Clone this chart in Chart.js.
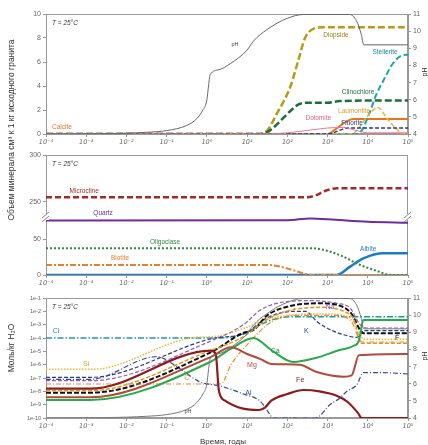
<!DOCTYPE html>
<html><head><meta charset="utf-8">
<script src="https://cdn.jsdelivr.net/npm/chart.js@4/dist/chart.umd.min.js"></script>
<style>
body{margin:0;background:#fff;width:428px;height:445px;position:relative;overflow:hidden;font-family:"Liberation Sans",Arial,sans-serif;}
canvas{position:absolute;left:0;}
.t{position:absolute;color:#333;white-space:nowrap;font-size:8px;}
.rot{transform:translate(-50%,-50%) rotate(-90deg);}
</style></head><body>
<canvas id="c1" width="428" height="150" style="top:0px"></canvas>
<canvas id="c2" width="428" height="143" style="top:148px"></canvas>
<canvas id="c3" width="428" height="143" style="top:291px"></canvas>
<div class="t rot" style="left:11px;top:130px;font-size:8.5px">Объем минерала см³ к 1 кг исходного гранита</div>
<div class="t rot" style="left:11px;top:348px;font-size:8.5px">Моль/кг H₂O</div>
<div class="t rot" style="left:424px;top:72px;font-size:7px">pH</div>
<div class="t rot" style="left:424px;top:356px;font-size:7px">pH</div>
<div class="t" style="left:223px;top:441px;transform:translate(-50%,-50%);font-size:8px">Время, годы</div>
<script>
// ---------- axes / ticks ----------
const decades = [-4,-3,-2,-1,0,1,2,3,4,5];               // log10(years)
const xTickLabels = ['10⁻⁴','10⁻³','10⁻²','10⁻¹','10⁰','10¹','10²','10³','10⁴','10⁵'];
const pHTicks = [4,5,6,7,8,9,10,11];
const volTicks = [0,2,4,6,8,10];
const volTopTicks = [250,300];
const volBotTicks = [0,50];
const molTicks = [-10,-9,-8,-7,-6,-5,-4,-3,-2,-1];        // log10(mol/kg)
const molTickLabels = ['1e-10','1e-9','1e-8','1e-7','1e-6','1e-5','1e-4','1e-3','1e-2','1e-1'];

// ---------- pH (shared by panels 1 and 3): [log10 t, pH] ----------
const pH = [[-4,4.0],[-2.5,4.02],[-2,4.05],[-1.5,4.1],[-1,4.2],[-0.5,4.5],[-0.25,4.9],[-0.1,5.4],[0,6.0],[0.04,6.8],[0.08,7.45],[0.3,7.75],[0.58,8.1],[1.0,8.9],[1.15,9.4],[1.5,10.1],[2.0,10.75],[2.4,10.97],[3.55,10.97],[3.72,10.6],[3.84,9.8],[3.9,9.2],[5,9.2]];

// ---------- panel 1: secondary minerals, cm3 ----------
const diopside    = [[-4,0],[1.3,0],[1.5,0.3],[1.74,1.7],[2.07,3.9],[2.27,6.1],[2.44,8.0],[2.64,8.75],[2.9,8.9],[5,8.9]];
const clinochlore = [[-4,0],[1.3,0],[1.5,0.15],[1.74,0.8],[2.07,1.9],[2.3,2.5],[2.5,2.6],[3.0,2.6],[3.3,2.75],[5,2.8]];
const stellerite  = [[-4,0],[3.7,0],[3.85,0.3],[4.06,1.9],[4.2,3.2],[4.38,4.4],[4.63,5.9],[4.85,6.55],[5,6.6]];
const laumontite  = [[-4,0],[3.6,0],[3.8,0.6],[4.0,1.5],[4.25,2.2],[4.5,1.2],[4.75,0.3],[4.9,0],[5,0]];
const calcite     = [[-4,0],[3.0,0],[3.2,0.4],[3.45,1.0],[3.64,1.25],[5,1.25]];
const dolomite    = [[-4,0],[1.5,0],[2.0,0.1],[2.5,0.3],[3.0,0.5],[3.4,0.55],[3.7,0.3],[4.0,0.1],[5,0.1]];
const fluorite    = [[-4,0],[3.0,0],[3.3,0.3],[3.5,0.5],[5,0.5]];

// ---------- panel 2: primary minerals, cm3 ----------
const microcline = [[-4,255],[2.45,255],[2.7,257],[2.95,262],[3.25,264.5],[5,264.5]];
const quartz     = [[-4,76],[2.0,76.5],[2.57,79],[3.2,77],[4.0,74.5],[5,73]];
const oligoclase = [[-4,37.5],[2.57,37.5],[2.98,34],[3.39,25.7],[3.81,14],[4.23,5.6],[4.48,0.9],[4.7,0],[5,0]];
const biotite    = [[-4,14],[1.49,14],[1.74,12.6],[2.07,8],[2.4,2.3],[2.57,0],[5,0]];
const albite     = [[-4,0],[3.23,0],[3.56,11.7],[3.89,23.3],[4.39,30.3],[5,30.3]];

// ---------- panel 3: solution, log10 mol/kg H2O ----------
const cl = [[-4,-4],[0.3,-4],[0.9,-3.7],[1.4,-2.9],[1.8,-2.5],[2.2,-2.4],[5,-2.4]];
const si = [[-4,-6.35],[-2.85,-6.35],[-0.4,-4.0],[0.3,-3.85],[0.9,-3.3],[1.5,-2.6],[2.0,-2.3],[3.0,-2.2],[3.5,-2.4],[3.75,-3.2],[3.9,-4.1],[5,-4.1]];
const k  = [[-4,-6.95],[-2.9,-6.95],[0.2,-4.0],[0.91,-3.7],[1.49,-2.5],[2.15,-2.0],[2.45,-2.0],[2.73,-2.75],[2.98,-3.25],[3.4,-3.75],[3.73,-3.95],[3.9,-3.45],[5,-3.45]];
const na = [[-4,-7.2],[-2.9,-7.2],[0.08,-4.25],[0.91,-3.0],[1.33,-1.9],[1.74,-1.4],[2.57,-1.2],[3.23,-1.4],[3.56,-1.75],[3.81,-3.0],[3.97,-3.25],[5,-3.25]];
const c  = [[-4,-7.45],[0.35,-7.45],[0.6,-6.0],[1.0,-4.5],[1.6,-2.8],[2.2,-2.3],[3.2,-2.3],[3.6,-2.8],[3.85,-4.3],[5,-4.3]];
const f  = [[-4,-8.1],[-2.9,-8.1],[0.08,-5.1],[0.91,-3.6],[1.16,-3.4],[1.5,-2.3],[2.07,-1.6],[2.82,-1.4],[3.4,-1.7],[3.6,-2.2],[3.81,-3.4],[3.9,-3.65],[5,-3.65]];
const extraDashed = [[-4,-7.95],[-2.9,-7.95],[0.08,-4.95],[0.91,-3.9],[1.5,-2.6],[2.1,-1.9],[2.9,-1.7],[3.4,-2.0],[3.65,-2.6],[3.85,-4.4],[5,-4.4]];
const ca = [[-4,-8.65],[-2.9,-8.65],[0.08,-5.8],[0.6,-4.8],[1.16,-4.0],[1.6,-4.9],[2.15,-5.8],[2.7,-5.5],[3.3,-4.9],[3.64,-4.6],[3.78,-4.2],[3.89,-2.65],[5,-2.65]];
const mg = [[-4,-8.45],[-2.9,-8.45],[0.08,-5.45],[0.6,-4.7],[1.0,-5.2],[1.35,-5.6],[1.6,-5.95],[2.3,-6.0],[2.73,-6.55],[3.4,-6.9],[3.6,-6.8],[3.78,-5.3],[5,-5.2]];
const fe = [[-4,-7.8],[-2.9,-7.8],[0.1,-4.95],[0.22,-5.2],[0.3,-8.0],[0.45,-8.7],[0.9,-9.3],[1.3,-9.4],[1.45,-9.2],[1.6,-8.7],[2.0,-8.2],[2.4,-7.9],[2.8,-8.0],[3.2,-8.3],[3.5,-8.8],[3.75,-9.6],[3.85,-10],[5,-10]];
const al = [[-4,-7.1],[-2.9,-7.1],[-1.25,-5.4],[-0.67,-6.3],[-0.17,-7.3],[0.33,-7.6],[0.91,-8.2],[1.33,-8.75],[1.49,-9.4],[1.66,-10],[2.7,-10],[3.06,-9.0],[3.31,-8.5],[3.48,-8.0],[3.73,-7.5],[3.89,-6.6],[4.4,-6.6],[5,-6.7]];

// ---------- helpers ----------
const FONT = "'Liberation Sans', Arial, sans-serif";
const TICKFONT = "'DejaVu Sans', 'Liberation Sans', sans-serif";
const pts = arr => arr.map(p => ({x:p[0], y:p[1]}));
function ds(label, arr, color, width, dash, yAxisID){
  return {label, data:pts(arr), borderColor:color, borderWidth:width, borderDash:dash||[],
    pointRadius:0, fill:false, cubicInterpolationMode:'monotone', yAxisID, borderCapStyle:'butt'};
}
function xScale(showLabels){
  return {type:'linear', min:-4, max:5,
    afterBuildTicks: s => { s.ticks = decades.map(v => ({value:v})); },
    afterFit: s => { s.height = 16; },
    ticks:{display:showLabels, callback:v => xTickLabels[decades.indexOf(v)], font:{family:TICKFONT,size:6.5,style:'italic'}, color:'#666', padding:1, maxRotation:0, autoSkip:false},
    grid:{drawOnChartArea:false, tickLength:3, color:'#999'}, border:{color:'#999'}};
}
function yScale(pos, min, max, ticks, labels, width, extra){
  return Object.assign({type:'linear', position:pos, min, max,
    afterBuildTicks: s => { s.ticks = ticks.map(v => ({value:v})); },
    afterFit: s => { s.width = width; },
    ticks:{callback:v => labels ? labels[ticks.indexOf(v)] : v, font:{family:FONT,size:7}, color:'#666', padding:2, autoSkip:false},
    grid:{drawOnChartArea:false, tickLength:3, color:'#999'}, border:{color:'#999'}}, extra||{});
}
const framePlugin = {id:'frame', beforeDatasetsDraw(chart){
  const a = chart.chartArea, ctx = chart.ctx;
  ctx.save(); ctx.strokeStyle = '#999'; ctx.lineWidth = 1;
  ctx.strokeRect(a.left+0.5, a.top+0.5, a.right-a.left-1, a.bottom-a.top-1); ctx.restore();
}};
function labelPlugin(items){
  return {id:'labels', afterDatasetsDraw(chart){
    const ctx = chart.ctx, a = chart.chartArea;
    ctx.save(); ctx.textBaseline = 'middle';
    ctx.font = "italic 6.5px " + FONT; ctx.fillStyle = '#333'; ctx.textAlign = 'left';
    ctx.fillText('T = 25°C', a.left+6, a.top+9);
    items.forEach(it => {
      ctx.font = (it.size||6.5) + "px " + FONT; ctx.fillStyle = it.color; ctx.textAlign = it.align||'center';
      ctx.fillText(it.text, chart.scales.x.getPixelForValue(it.x), chart.scales[it.axis].getPixelForValue(it.y));
    });
    ctx.restore();
  }};
}
const baseOpts = (padding, scales) => ({responsive:false, animation:false, devicePixelRatio:1,
  layout:{padding}, plugins:{legend:{display:false}, tooltip:{enabled:false}}, scales});

// ---------- panel 1 ----------
new Chart(document.getElementById('c1'), {type:'line',
  data:{datasets:[
    ds('pH', pH, '#666', 1, [], 'pHax'),
    ds('Dolomite', dolomite, '#e87a95', 1, [], 'y'),
    ds('Fluorite', fluorite, '#2c3a8e', 1.5, [4,2], 'y'),
    ds('Laumontite', laumontite, '#eab53a', 1.5, [5,2], 'y'),
    ds('Clinochlore', clinochlore, '#1e6e3c', 2.5, [7,3], 'y'),
    ds('Diopside', diopside, '#b79a16', 2.5, [7,3], 'y'),
    ds('Stellerite', stellerite, '#1aa3b3', 2, [6,3], 'y'),
    ds('Calcite', calcite, '#e8741e', 2, [], 'y')
  ]},
  options: baseOpts({top:14, right:0, left:0, bottom:0}, {
    x: xScale(true),
    y: yScale('left', 0, 10, volTicks, null, 46),
    pHax: yScale('right', 4, 11, pHTicks, null, 20)
  }),
  plugins:[framePlugin, labelPlugin([
    {text:'Calcite', x:-3.85, y:0.6, axis:'y', color:'#e8741e', align:'left'},
    {text:'Diopside', x:3.21, y:8.25, axis:'y', color:'#9a8410'},
    {text:'Stellerite', x:4.43, y:6.8, axis:'y', color:'#168a99'},
    {text:'Clinochlore', x:3.76, y:3.5, axis:'y', color:'#1e6e3c'},
    {text:'Laumontite', x:3.66, y:1.9, axis:'y', color:'#d9a02a'},
    {text:'Dolomite', x:2.77, y:1.33, axis:'y', color:'#e06080'},
    {text:'Fluorite', x:3.61, y:0.9, axis:'y', color:'#2c3a8e'},
    {text:'pH', x:0.7, y:7.5, axis:'y', color:'#444', size:5.5}
  ])]
});

// ---------- panel 2 (broken axis as two stacked scales) ----------
const breakPlugin = {id:'brk', afterDraw(chart){
  const ctx = chart.ctx, yb = chart.scales.yTop.bottom;
  ctx.save();
  [chart.chartArea.left, chart.chartArea.right].forEach(x => {
    ctx.fillStyle = '#fff'; ctx.fillRect(x-3, yb-3, 6, 6);
    ctx.strokeStyle = '#888'; ctx.lineWidth = 1;
    ctx.beginPath(); ctx.moveTo(x-4, yb+1); ctx.lineTo(x+3, yb-5);
    ctx.moveTo(x-4, yb+5); ctx.lineTo(x+3, yb-1); ctx.stroke();
  });
  ctx.restore();
}};
new Chart(document.getElementById('c2'), {type:'line',
  data:{datasets:[
    ds('Microcline', microcline, '#a32a2a', 2.5, [6,3], 'yTop'),
    ds('Quartz', quartz, '#6b2e9c', 2, [], 'yBot'),
    ds('Oligoclase', oligoclase, '#2e8a40', 2, [2,2], 'yBot'),
    ds('Biotite', biotite, '#e2822e', 2, [6,2,2,2], 'yBot'),
    ds('Albite', albite, '#1c7cc4', 2.5, [], 'yBot')
  ]},
  options: baseOpts({top:7, right:20, left:0, bottom:0}, {
    x: xScale(true),
    yBot: yScale('left', 0, 81, volBotTicks, null, 46, {stack:'p2', stackWeight:58, offset:false}),
    yTop: yScale('left', 234, 300, volTopTicks, null, 46, {stack:'p2', stackWeight:62, offset:false})
  }),
  plugins:[framePlugin, breakPlugin, labelPlugin([
    {text:'Microcline', x:-3.05, y:261, axis:'yTop', color:'#a32a2a'},
    {text:'Quartz', x:-2.58, y:238, axis:'yTop', color:'#6b2e9c'},
    {text:'Oligoclase', x:-1.04, y:46, axis:'yBot', color:'#2e8a40'},
    {text:'Biotite', x:-2.16, y:24, axis:'yBot', color:'#e2822e'},
    {text:'Albite', x:4.01, y:36, axis:'yBot', color:'#1c7cc4'}
  ])]
});

// ---------- panel 3 ----------
new Chart(document.getElementById('c3'), {type:'line',
  data:{datasets:[
    ds('pH', pH, '#777', 1, [], 'pHax'),
    ds('Al', al, '#3a4a92', 1.2, [5,2,1,2], 'y'),
    ds('Fe', fe, '#8c1c1c', 2.2, [], 'y'),
    ds('Mg', mg, '#b04a3a', 2, [], 'y'),
    ds('Ca', ca, '#2aa84a', 2, [], 'y'),
    ds('C', c, '#e88a30', 1.2, [5,2,1,2], 'y'),
    ds('extra', extraDashed, '#e8921e', 1.5, [4,2], 'y'),
    ds('F', f, '#111', 2, [5,2], 'y'),
    ds('Si', si, '#e8b838', 1.5, [1.5,1.5], 'y'),
    ds('K', k, '#2a3a8a', 1.2, [4,2], 'y'),
    ds('Na', na, '#8e5cc0', 1.2, [4,2], 'y'),
    ds('Cl', cl, '#1a9aa8', 1.5, [6,2,1.5,2], 'y')
  ]},
  options: baseOpts({top:7, right:0, left:0, bottom:0}, {
    x: xScale(true),
    y: yScale('left', -10, -1, molTicks, molTickLabels, 46, {ticks:{callback:v => molTickLabels[molTicks.indexOf(v)], font:{family:FONT,size:5.5}, color:'#666', padding:2, autoSkip:false}}),
    pHax: yScale('right', 4, 11, pHTicks, null, 20)
  }),
  plugins:[framePlugin, labelPlugin([
    {text:'Cl', x:-3.75, y:-3.5, axis:'y', color:'#1a9aa8', size:7},
    {text:'Si', x:-3.0, y:-5.95, axis:'y', color:'#e0a020', size:7},
    {text:'C', x:-0.5, y:-7.0, axis:'y', color:'#e88a30', size:7},
    {text:'pH', x:-0.47, y:-9.5, axis:'y', color:'#444', size:5.5},
    {text:'Na', x:3.06, y:-1.7, axis:'y', color:'#8e5cc0', size:7},
    {text:'K', x:2.47, y:-3.5, axis:'y', color:'#2a3a8a', size:7},
    {text:'F', x:4.73, y:-4.0, axis:'y', color:'#222', size:7},
    {text:'Ca', x:1.7, y:-5.0, axis:'y', color:'#1e8a3a', size:7},
    {text:'Mg', x:1.12, y:-6.0, axis:'y', color:'#b04a3a', size:7},
    {text:'Fe', x:2.32, y:-7.15, axis:'y', color:'#8c1c1c', size:7},
    {text:'Al', x:1.03, y:-8.15, axis:'y', color:'#3a4a92', size:7}
  ])]
});
</script>
</body></html>
